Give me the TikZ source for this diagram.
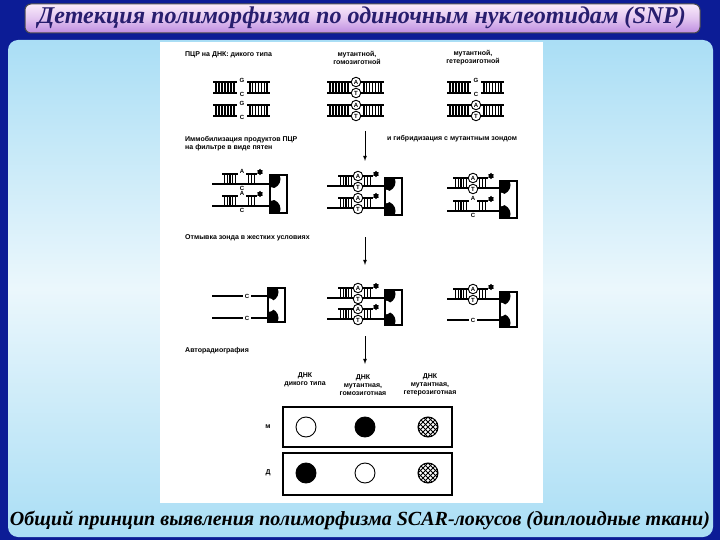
\documentclass[tikz,border=0pt]{standalone}
\usepackage{fontspec}
\setmainfont{Liberation Serif}
\setsansfont{Liberation Sans}
\usetikzlibrary{shapes.geometric}
\definecolor{frameblue}{RGB}{12,28,150}
\definecolor{titletxt}{RGB}{40,30,110}
\definecolor{paneltop}{RGB}{170,222,245}
\definecolor{panelmid}{RGB}{235,247,252}
\definecolor{tbar1}{RGB}{250,235,250}
\definecolor{tbar2}{RGB}{190,140,225}
\tikzset{
 lab/.style={font=\sffamily\bfseries\fontsize{7}{8}\selectfont,inner sep=0pt,align=center},
 lt/.style={font=\sffamily\bfseries\fontsize{6}{6}\selectfont,inner sep=0pt,fill=white},
 cl/.style={circle,draw,line width=0.9pt,fill=white,minimum size=9.5pt,inner sep=0pt,font=\sffamily\bfseries\fontsize{6}{6}\selectfont},
 dna/.style={line width=1.4pt},
 arr/.style={-latex,line width=0.8pt},
 spot/.style={circle,draw,line width=0.9pt,minimum size=20pt,inner sep=0pt},
}
\newcommand\lad[5]{%
 \draw[dna] (#1,#2) -- ++(#5,0) (#1,#3) -- ++(#5,0);
 \foreach \i in {1,...,#4} \draw[dna] ({#1+\i*#5/(#4+1)},#2) -- ({#1+\i*#5/(#4+1)},#3);}
\newcommand\dup[2]{\lad{#1-29}{#2}{#2+11}{7}{24}\lad{#1+5}{#2}{#2+11}{7}{23}}
\newcommand\prb[5]{\lad{#1-20}{#2}{#3}{5}{16}\lad{#1+4}{#2}{#3}{3}{11}
 \draw[dna] (#4,#3) -- (#5,#3);
 \node[star,star points=6,fill=black,minimum size=6.5pt,inner sep=0pt] at (#1+18,#2-2) {};}
\newcommand\filt[3]{%
 \begin{scope}\clip (#1,#2) rectangle (#1+17,#3);
 \fill (#1+1,#2+4) circle (9.5); \fill (#1+1,#3-4) circle (9.5);
 \fill[white] ({#1},{(#2+#3)/2}) circle (7);\end{scope}
 \draw[line width=1.3pt] (#1,#2) rectangle (#1+17,#3);}
\newcommand\hatchspot[2]{%
 \begin{scope}\clip (#1,#2) circle (10);
 \foreach \d in {-20,-15,...,20}{\draw[line width=0.9pt] (#1+\d-12,#2-12) -- ++(24,24); \draw[line width=0.9pt] (#1+\d-12,#2+12) -- ++(24,-24);}
 \end{scope}\draw[line width=1pt] (#1,#2) circle (10);}
\begin{document}
\begin{tikzpicture}[x=1pt,y=-1pt]
\useasboundingbox (0,0) rectangle (720,540);
\fill[frameblue] (0,0) rectangle (720,540);
\shade[top color=tbar1,bottom color=tbar2,middle color=tbar1!60!tbar2,rounded corners=6pt,draw=black!70,line width=1pt] (25,4) rectangle (700,33);
\node[font=\bfseries\itshape,text=titletxt] (title) at (362,18) {\resizebox{648pt}{!}{Детекция полиморфизма по одиночным нуклеотидам (SNP)}};
\shade[top color=paneltop,bottom color=paneltop,middle color=panelmid,rounded corners=10pt] (8,40) rectangle (713,537);
\fill[white] (160,42) rectangle (543,503);
\node[lab,anchor=west] (t1) at (185,55) {ПЦР на ДНК: дикого типа};
\node[lab] (t2) at (357,58) {мутантной,\\гомозиготной};
\node[lab] (t3) at (473,58) {мутантной,\\гетерозиготной};
\dup{242}{82}\node[lt] at (242,80) {G};\node[lt] at (242,94) {C};
\dup{242}{105}\node[lt] at (242,103) {G};\node[lt] at (242,117) {C};
\dup{356}{82}\node[cl] at (356,82) {A};\node[cl] at (356,93) {T};
\dup{356}{105}\node[cl] at (356,105) {A};\node[cl] at (356,116) {T};
\dup{476}{82}\node[lt] at (476,80) {G};\node[lt] at (476,94) {C};
\dup{476}{105}\node[cl] at (476,105) {A};\node[cl] at (476,116) {T};
\node[lab,anchor=west,align=left] (t4) at (185,144) {Иммобилизация продуктов ПЦР\\на фильтре в виде пятен};
\node[lab,anchor=west] (t5) at (387,139) {и гибридизация с мутантным зондом};
\coordinate (a1s) at (365,131); \coordinate (a1e) at (365,161);
\draw[arr] (a1s) -- (a1e);
\prb{242}{174}{184}{212}{270}\node[lt] at (242,171) {A};\node[lt] at (242,188) {C};
\prb{242}{196}{206}{212}{270}\node[lt] at (242,193) {A};\node[lt] at (242,210) {C};
\filt{270}{175}{213}
\prb{358}{176}{186}{327}{385}\node[cl] at (358,176) {A};\node[cl] at (358,187) {T};
\prb{358}{198}{208}{327}{385}\node[cl] at (358,198) {A};\node[cl] at (358,209) {T};
\filt{385}{178}{215}
\prb{473}{178}{188}{447}{500}\node[cl] at (473,178) {A};\node[cl] at (473,189) {T};
\prb{473}{201}{211}{447}{500}\node[lt] at (473,198) {A};\node[lt] at (473,215) {C};
\filt{500}{181}{218}
\node[lab,anchor=west] (t6) at (185,238) {Отмывка зонда в жестких условиях};
\coordinate (a2s) at (365,237); \coordinate (a2e) at (365,265);
\draw[arr] (a2s) -- (a2e);
\draw[dna] (212,296) -- (243,296) (251,296) -- (268,296);\node[lt,fill=none] at (247,296) {C};
\draw[dna] (212,318) -- (243,318) (251,318) -- (268,318);\node[lt,fill=none] at (247,318) {C};
\filt{268}{288}{322}
\prb{358}{288}{298}{327}{385}\node[cl] at (358,288) {A};\node[cl] at (358,299) {T};
\prb{358}{309}{319}{327}{385}\node[cl] at (358,309) {A};\node[cl] at (358,320) {T};
\filt{385}{290}{325}
\prb{473}{289}{299}{447}{500}\node[cl] at (473,289) {A};\node[cl] at (473,300) {T};
\draw[dna] (447,320) -- (469,320) (477,320) -- (500,320);\node[lt,fill=none] at (473,320) {C};
\filt{500}{292}{327}
\node[lab,anchor=west] (t7) at (185,351) {Авторадиография};
\coordinate (a3s) at (365,336); \coordinate (a3e) at (365,364);
\draw[arr] (a3s) -- (a3e);
\node[lab] (c1) at (305,380) {ДНК\\дикого типа};
\node[lab] (c2) at (363,385) {ДНК\\мутантная,\\гомозиготная};
\node[lab] (c3) at (430,385) {ДНК\\мутантная,\\гетерозиготная};
\draw[line width=1.3pt] (283,407) rectangle (452,447);
\draw[line width=1.3pt] (283,453) rectangle (452,495);
\node[lab] (m) at (268,427) {м};
\node[lab] (d) at (268,473) {Д};
\node[spot] (s1) at (306,427) {};
\node[spot,fill=black] (s2) at (365,427) {};
\hatchspot{428}{427}
\node[spot,fill=black] (s4) at (306,473) {};
\node[spot] (s5) at (365,473) {};
\hatchspot{428}{473}
\node[font=\bfseries\itshape] (cap) at (360,520) {\resizebox{700pt}{!}{Общий принцип выявления полиморфизма SCAR-локусов (диплоидные ткани)}};
\end{tikzpicture}
\end{document}
